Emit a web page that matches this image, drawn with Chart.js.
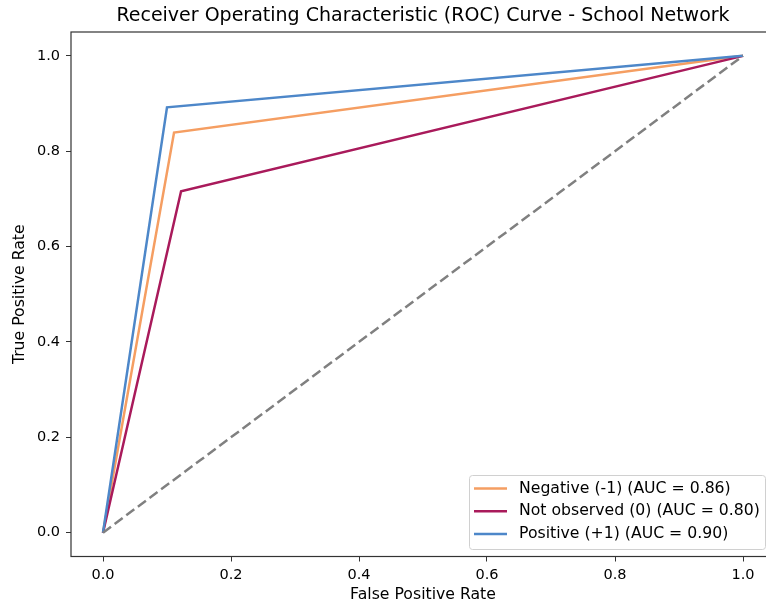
<!DOCTYPE html>
<html lang="en">
<head>
  <meta charset="UTF-8">
  <title>ROC Curve - School Network</title>
  <script src="https://cdn.jsdelivr.net/npm/chart.js"></script>
  <style>
    html, body {
      margin: 0;
      padding: 0;
      overflow: hidden;
      background: #fff;
    }
    .chart-container {
      width: 782px;  /* a bit wider than the window: the right spine falls off-screen like in the reference */
      height: 605px;
    }
  </style>
</head>
<body>
  <div class="chart-container">
    <canvas id="rocChart"></canvas>
  </div>

  <script>
    // data
    const seriesLabels = ['Negative (-1) (AUC = 0.86)', 'Not observed (0) (AUC = 0.80)', 'Positive (+1) (AUC = 0.90)'];
    const seriesColors = ['#F59E62', '#A91A5B', '#4D87C9'];
    const fprNegative = [0.0, 0.111, 1.0];
    const tprNegative = [0.0, 0.839, 1.0];
    const fprNotObserved = [0.0, 0.122, 1.0];
    const tprNotObserved = [0.0, 0.716, 1.0];
    const fprPositive = [0.0, 0.100, 1.0];
    const tprPositive = [0.0, 0.892, 1.0];
    const chanceLine = [0.0, 1.0];
    const tickValues = [0.0, 0.2, 0.4, 0.6, 0.8, 1.0];
    const tickLabels = ['0.0', '0.2', '0.4', '0.6', '0.8', '1.0'];

    const toPoints = (xs, ys) => xs.map((x, i) => ({ x: x, y: ys[i] }));
    const fontFamily = "'DejaVu Sans', sans-serif";

    // spines around the plot area
    const framePlugin = {
      id: 'frame',
      afterDraw(chart) {
        const { ctx, chartArea } = chart;
        const { left, right, top, bottom } = chartArea;
        ctx.save();
        ctx.strokeStyle = '#333';
        ctx.lineWidth = 1.2;
        ctx.strokeRect(left, top, right - left, bottom - top);
        ctx.restore();
      }
    };

    // legend box in the lower right corner of the plot
    const legendPlugin = {
      id: 'boxLegend',
      afterDraw(chart) {
        const { ctx } = chart;
        const items = chart.data.datasets.filter(d => d.showInLegend);
        const boxX = 469, boxY = 475, boxW = 296, boxH = 74;
        ctx.save();
        ctx.fillStyle = 'rgba(255,255,255,0.8)';
        ctx.strokeStyle = '#d0d0d0';
        ctx.lineWidth = 1;
        ctx.beginPath();
        ctx.roundRect(boxX + 0.5, boxY + 0.5, boxW, boxH, 3);
        ctx.fill();
        ctx.stroke();
        ctx.font = '15.7px ' + fontFamily;
        ctx.textBaseline = 'middle';
        items.forEach((d, i) => {
          const y = boxY + 13.5 + i * 22.7;
          ctx.strokeStyle = d.borderColor;
          ctx.lineWidth = 2.5;
          ctx.beginPath();
          ctx.moveTo(474, y);
          ctx.lineTo(507, y);
          ctx.stroke();
          ctx.fillStyle = '#000';
          ctx.fillText(d.label, 519, y);
        });
        ctx.restore();
      }
    };

    const lineStyle = {
      fill: false,
      pointRadius: 0,
      borderWidth: 2.5,
      tension: 0
    };

    const ctx = document.getElementById('rocChart').getContext('2d');
    const rocChart = new Chart(ctx, {
      type: 'line',
      data: {
        datasets: [
          { ...lineStyle, label: seriesLabels[0], data: toPoints(fprNegative, tprNegative), borderColor: seriesColors[0], showInLegend: true, order: 3 },
          { ...lineStyle, label: seriesLabels[1], data: toPoints(fprNotObserved, tprNotObserved), borderColor: seriesColors[1], showInLegend: true, order: 2 },
          { ...lineStyle, label: seriesLabels[2], data: toPoints(fprPositive, tprPositive), borderColor: seriesColors[2], showInLegend: true, order: 1 },
          { ...lineStyle, label: 'chance', data: toPoints(chanceLine, chanceLine), borderColor: '#808080', borderDash: [10, 4.5], showInLegend: false, order: 0 }
        ]
      },
      options: {
        animation: false,
        responsive: true,
        maintainAspectRatio: false,
        layout: {
          padding: { left: 0, right: 7, top: 0, bottom: 0 }
        },
        scales: {
          x: {
            type: 'linear',
            min: -0.05,
            max: 1.05,
            afterBuildTicks: scale => { scale.ticks = tickValues.map(v => ({ value: v })); },
            afterFit: scale => { scale.height = 48.5; },
            grid: { drawOnChartArea: false, drawTicks: true, tickLength: 5, color: '#333' },
            border: { display: false },
            ticks: {
              color: '#000',
              padding: 5,
              maxRotation: 0,
              font: { family: fontFamily, size: 14.5 },
              callback: (v, i) => tickLabels[i]
            },
            title: {
              display: true,
              text: 'False Positive Rate',
              color: '#000',
              font: { family: fontFamily, size: 15.7 },
              padding: { top: 0, bottom: 1 }
            }
          },
          y: {
            type: 'linear',
            min: -0.05,
            max: 1.05,
            afterBuildTicks: scale => { scale.ticks = tickValues.map(v => ({ value: v })); },
            afterFit: scale => { scale.width = 71; },
            grid: { drawOnChartArea: false, drawTicks: true, tickLength: 5, color: '#333' },
            border: { display: false },
            ticks: {
              color: '#000',
              padding: 6,
              font: { family: fontFamily, size: 14.5 },
              callback: (v, i) => tickLabels[i]
            },
            title: {
              display: true,
              text: 'True Positive Rate',
              color: '#000',
              font: { family: fontFamily, size: 15.7 },
              padding: { top: 10.6, bottom: 0 }
            }
          }
        },
        plugins: {
          legend: { display: false },
          tooltip: { enabled: false },
          title: {
            display: true,
            fullSize: false,
            text: 'Receiver Operating Characteristic (ROC) Curve - School Network',
            color: '#000',
            font: { family: fontFamily, size: 19, weight: 'normal' },
            padding: { top: 4.6, bottom: 4.6 }
          }
        }
      },
      plugins: [framePlugin, legendPlugin]
    });
  </script>
</body>
</html>
